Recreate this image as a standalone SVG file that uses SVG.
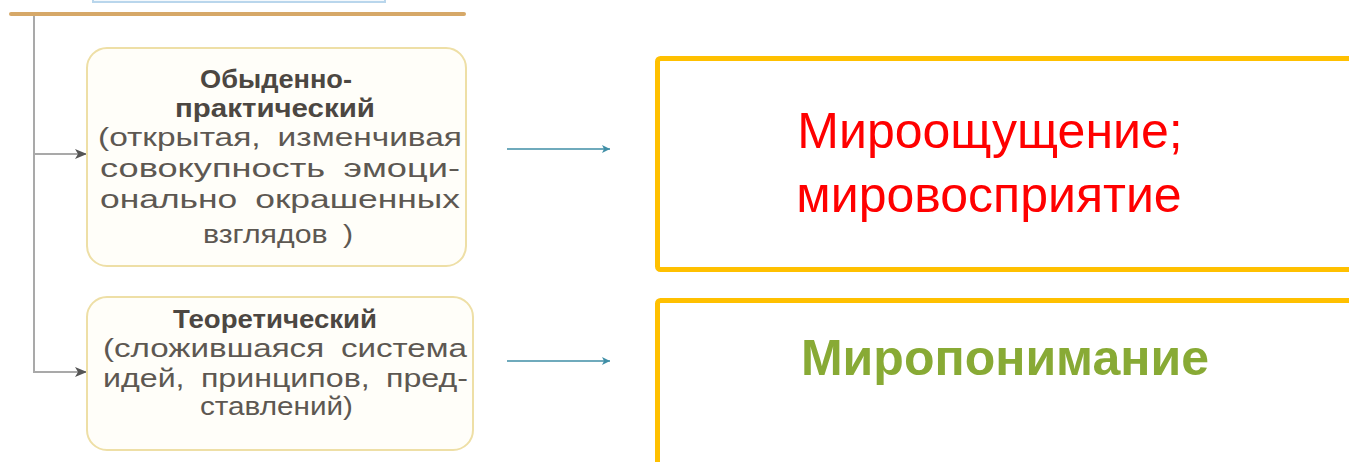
<svg xmlns="http://www.w3.org/2000/svg" width="1349" height="462" viewBox="0 0 1349 462">
  <defs>
    <style>
      .src { fill: #fffef9; stroke: #eedfa6; stroke-width: 2; }
      .t { font-family: "Liberation Sans", Arial, sans-serif; font-size: 26px; fill: #5d5852; word-spacing: 6px; }
      .tb { font-family: "Liberation Sans", Arial, sans-serif; font-size: 25px; font-weight: bold; fill: #4c4742; }
      .gray { fill: none; stroke: #a9a9a9; stroke-width: 2; }
      .teal { fill: none; stroke: #3f8ea6; stroke-width: 1.6; }
      .tgt { fill: #ffffff; stroke: #ffc000; stroke-width: 5; }
      .big { font-family: "Liberation Sans", Arial, sans-serif; font-size: 50px; text-anchor: middle; }
    </style>
    <marker id="ah" markerWidth="12" markerHeight="12" refX="11" refY="6" orient="auto" markerUnits="userSpaceOnUse" viewBox="0 0 12 12">
      <path d="M0,1 L12,6 L0,11 L3,6 Z" fill="#555"/>
    </marker>
    <marker id="ht" markerWidth="9" markerHeight="8" refX="8" refY="4" orient="auto" markerUnits="userSpaceOnUse" viewBox="0 0 9 8">
      <path d="M0,0 L8,4 L0,8 L2,4 Z" fill="#3f8ea6"/>
    </marker>
  </defs>

  <g id="header">
    <rect x="93" y="-20" width="292" height="22" fill="#f4f9fd" stroke="#b9d6ec" stroke-width="2"/>
    <line x1="11" y1="14" x2="464" y2="14" stroke="#d6a868" stroke-width="4" stroke-linecap="round"/>
  </g>

  <g id="connectors">
    <line class="gray" x1="34" y1="16" x2="34" y2="373"/>
    <path class="gray" d="M34,154 H86" marker-end="url(#ah)"/>
    <path class="gray" d="M34,372 H86" marker-end="url(#ah)"/>
    <path class="teal" d="M507,149 H610" marker-end="url(#ht)"/>
    <path class="teal" d="M507,361 H610" marker-end="url(#ht)"/>
  </g>

  <g id="node-everyday">
    <rect class="src" x="87" y="48" width="379" height="218" rx="20"/>
    <text class="tb" x="200" y="88" textLength="152" lengthAdjust="spacingAndGlyphs">Обыденно-</text>
    <text class="tb" x="175" y="117" textLength="200" lengthAdjust="spacingAndGlyphs">практический</text>
    <text class="t" x="98" y="146" textLength="364" lengthAdjust="spacingAndGlyphs">(открытая, изменчивая</text>
    <text class="t" x="100" y="177" textLength="360" lengthAdjust="spacingAndGlyphs">совокупность эмоци-</text>
    <text class="t" x="100" y="208" textLength="360" lengthAdjust="spacingAndGlyphs">онально окрашенных</text>
    <text class="t" x="203" y="243" textLength="150" lengthAdjust="spacingAndGlyphs">взглядов )</text>
  </g>

  <g id="node-theoretical">
    <rect class="src" x="87" y="297" width="386" height="153" rx="20"/>
    <text class="tb" x="173" y="328" textLength="204" lengthAdjust="spacingAndGlyphs">Теоретический</text>
    <text class="t" x="103" y="357" textLength="364" lengthAdjust="spacingAndGlyphs">(сложившаяся система</text>
    <text class="t" x="103" y="387" textLength="365" lengthAdjust="spacingAndGlyphs">идей, принципов, пред-</text>
    <text class="t" x="200" y="415" textLength="153" lengthAdjust="spacingAndGlyphs">ставлений)</text>
  </g>

  <g id="node-worldfeeling">
    <rect class="tgt" x="657.5" y="58.5" width="720" height="211" rx="3"/>
    <text class="big" x="990" y="148" fill="#ff0000">Мироощущение;</text>
    <text class="big" x="989" y="212" fill="#ff0000">мировосприятие</text>
  </g>

  <g id="node-worldunderstanding">
    <rect class="tgt" x="657.5" y="300.5" width="720" height="200" rx="3"/>
    <text class="big" x="1005" y="375" fill="#88aa35" font-weight="bold">Миропонимание</text>
  </g>
</svg>
